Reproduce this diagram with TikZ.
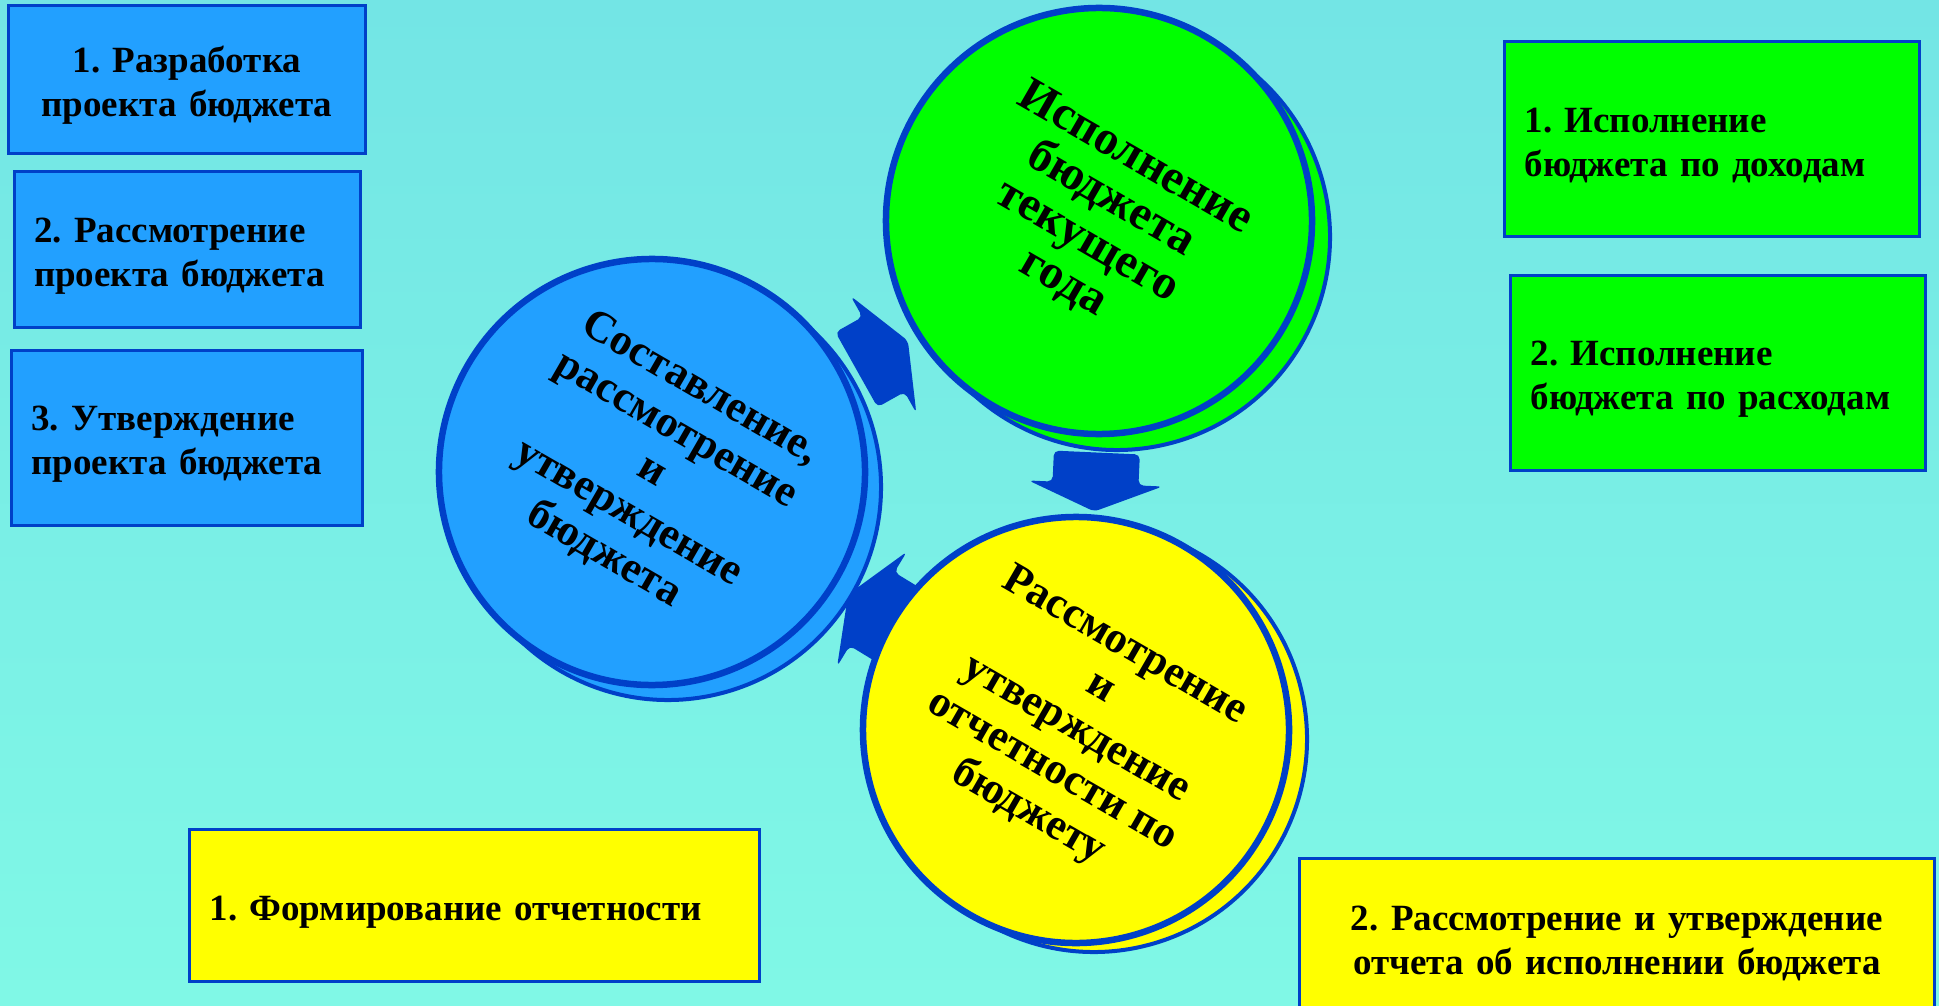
\documentclass[tikz,border=0pt]{standalone}
\usepackage{fontspec}
\setmainfont{Liberation Serif}
\usepackage{tikz}
\usetikzlibrary{positioning}
\usetikzlibrary{calc}
\usetikzlibrary{shadows}
\usetikzlibrary{backgrounds}
\frenchspacing

\definecolor{bgtop}{RGB}{115,229,229}
\definecolor{bgbot}{RGB}{128,248,230}
\definecolor{rimblue}{RGB}{0,64,200}
\definecolor{stageblue}{RGB}{34,160,255}
\definecolor{stagegreen}{RGB}{0,255,0}
\definecolor{stageyellow}{RGB}{255,255,0}

\tikzset{
  stage/.style={circle, draw=rimblue, line width=3.25pt, minimum size=213pt,
    inner sep=0pt, align=center, rotate=-30,
    font=\fontsize{22}{24}\selectfont\bfseries},
  infobox/.style={rectangle, draw=rimblue, line width=1.5pt, inner xsep=10pt,
    inner ysep=0pt, font=\fontsize{18.5}{22}\selectfont\bfseries,
    execute at begin node={\rule{0pt}{1em}}},
  cyclearrow/.pic={
    \fill[rimblue, rounded corners=2.5pt] (-31,-43) -- (0,-43) -- (0,-67) -- (28,0)
      -- (0,67) -- (0,43) -- (-31,43) -- cycle;
  }
}

\begin{document}
\begin{tikzpicture}[x=0.5pt, y=-0.5pt]
    \useasboundingbox (0,0) rectangle (1939,1006);
    \begin{scope}[on background layer]
      \fill[top color=bgtop, bottom color=bgbot] (0,0) rectangle (1939,1006);
    \end{scope}

    % Stages of the cycle
    \node[stage, fill=stageblue, copy shadow={shadow xshift=8pt, shadow yshift=-7.5pt, line width=2pt}] (draft) at (652,472)
      {Составление,\\рассмотрение\\и\\утверждение\\бюджета};
    \node[stage, fill=stagegreen, font=\fontsize{24}{24}\selectfont\bfseries,
      copy shadow={shadow xshift=9pt, shadow yshift=-8pt, line width=2pt}] (exec) at (1099,221)
      {Исполнение\\бюджета\\текущего\\года};
    \node[stage, fill=stageyellow,
      copy shadow={shadow xshift=9pt, shadow yshift=-4.5pt, line width=2pt}] (report) at (1076,730)
      {Рассмотрение\\и\\утверждение\\отчетности по\\бюджету};

    % Arrows between the stages
    \begin{scope}[on background layer]
      \foreach \a/\b in {draft/exec, exec/report, report/draft}
        \path let \p1 = ($(\b)-(\a)$), \n1 = {atan2(\y1,\x1)} in
          ($(\a)!0.5!(\b) + (8,8)$) pic[rotate=\n1] {cyclearrow};
    \end{scope}

    % Budget drafting steps
    \node[infobox, fill=stageblue, minimum height=74pt, text width=158.5pt, align=center] (draft1) at (187,79.5)
      {1. Разработка\\проекта бюджета};
    \node[infobox, fill=stageblue, minimum height=78pt, text width=153pt, align=left, below=7.5pt of draft1] (draft2)
      {2. Рассмотрение\\проекта бюджета};
    \node[infobox, fill=stageblue, minimum height=87.5pt, text width=155.5pt, align=left, below=10pt of draft2] (draft3)
      {3. Утверждение\\проекта бюджета};

    % Execution steps
    \node[infobox, fill=stagegreen, minimum height=97.5pt, text width=187.5pt, align=left] (exec1) at (1712,139)
      {1. Исполнение\\бюджета по доходам};
    \node[infobox, fill=stagegreen, minimum height=97.5pt, text width=187.5pt, align=left, below=18pt of exec1, xshift=3pt] (exec2)
      {2. Исполнение\\бюджета по расходам};

    % Reporting steps
    \node[infobox, fill=stageyellow, minimum height=76pt, text width=265pt, align=left] (report1) at (474.5,905.5)
      {1. Формирование отчетности};
    \node[infobox, fill=stageyellow, minimum height=79pt, text width=297.5pt, align=center] (report2) at (1617,937.5)
      {2. Рассмотрение и утверждение\\отчета об исполнении бюджета};
\end{tikzpicture}
\end{document}
